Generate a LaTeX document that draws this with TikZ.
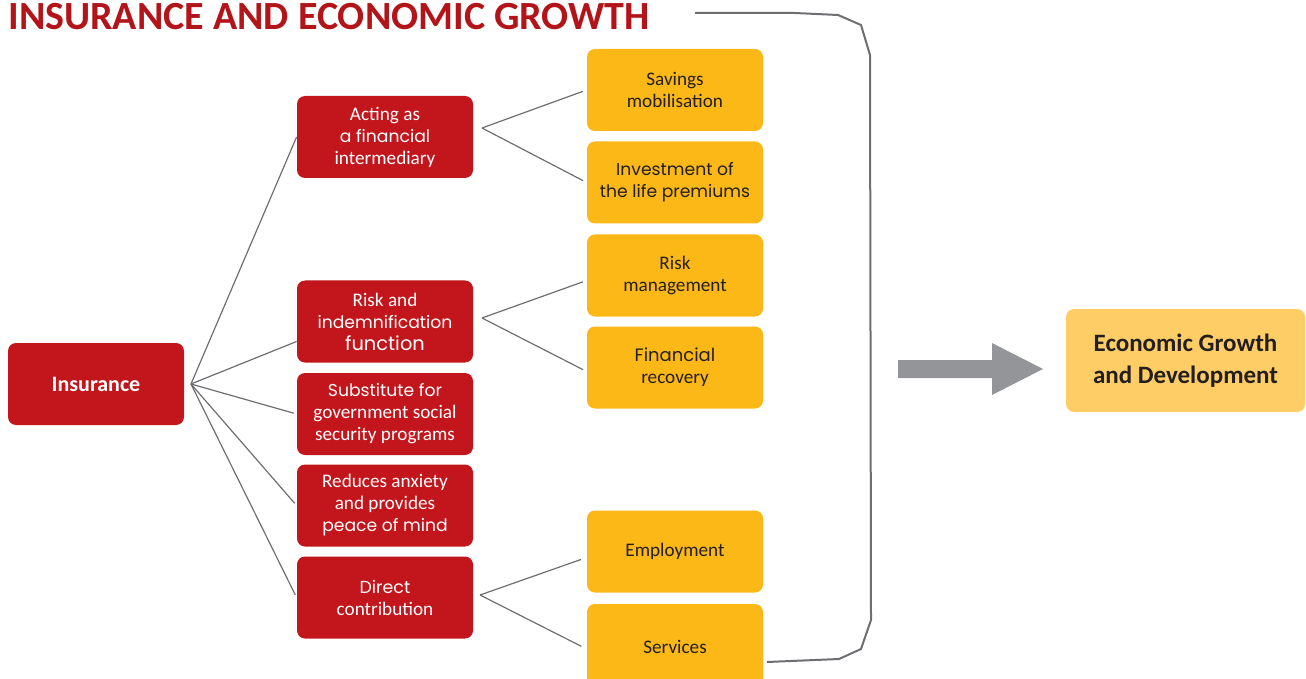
\documentclass[tikz,border=0pt]{standalone}
\usepackage{fontspec}
\setmainfont{Carlito}
\newfontfamily\gothic{Poppins}
\usetikzlibrary{positioning}

\definecolor{insred}{HTML}{C3161C}
\definecolor{titlered}{HTML}{B21419}
\definecolor{insyellow}{HTML}{FBB817}
\definecolor{growthyellow}{HTML}{FECD66}
\definecolor{arrowgray}{HTML}{939598}
\definecolor{linegray}{HTML}{6D6E71}
\definecolor{textdark}{HTML}{231F20}

\newcommand{\gothtext}[2][8.6]{{\gothic\fontsize{#1}{11}\selectfont #2}}

\begin{document}
\begin{tikzpicture}[x=0.5pt, y=-0.5pt,
    redbox/.style={fill=insred, text=white, rounded corners=4pt, minimum width=88pt, minimum height=41pt, inner sep=0pt, align=center, font=\fontsize{9.6}{11}\selectfont},
    yellowbox/.style={fill=insyellow, text=textdark, rounded corners=4pt, minimum width=88pt, minimum height=41pt, inner sep=0pt, align=center, font=\fontsize{9.6}{11}\selectfont},
    link/.style={draw=linegray, line width=0.6pt}]

\useasboundingbox (0,0) rectangle (1306,679);
\clip (0,0) rectangle (1306,679);

% Title
\node[anchor=base west, inner sep=0pt, text=titlered, font=\fontsize{20}{24}\selectfont\bfseries] (title) at (8,30) {INSURANCE AND ECONOMIC GROWTH};

% Root
\node[redbox, font=\fontsize{11}{13}\selectfont\bfseries] (ins) at (96,384) {Insurance};

% Roles of insurance
\node[redbox] (acting) at (385,137) {Acting as\\\gothtext{a financial}\\intermediary};
\node[redbox] (risk)   at (385,321.5) {Risk and\\\gothtext{indemnification}\\\gothtext[9.7]{function}};
\node[redbox] (subst)  at (385,414) {\gothtext{Substitute for}\\government social\\security programs};
\node[redbox] (reduce) at (385,505.5) {Reduces anxiety\\and provides\\\gothtext{peace of mind}};
\node[redbox] (direct) at (385,597.5) {\gothtext[8.7]{Direct}\\contribution};

% Effects
\node[yellowbox] (savings)  at (675,90) {Savings\\mobilisation};
\node[yellowbox] (invest)   at (675,182.5) {\gothtext{Investment of}\\\gothtext{the life premiums}};
\node[yellowbox] (riskm)    at (675,275.5) {Risk\\management};
\node[yellowbox] (recov)    at (675,367.5) {\gothtext[9]{Financial}\\recovery};
\node[yellowbox] (employ)   at (675,551.5) {Employment};
\node[yellowbox, minimum height=43pt] (services) at (675,647) {Services};

% Outcome
\node[fill=growthyellow, text=textdark, rounded corners=4pt, minimum width=119.5pt, minimum height=51.5pt, inner sep=0pt, align=center, font=\fontsize{12.5}{16}\selectfont\bfseries] (growth) at (1185.5,360.5) {Economic Growth\\and Development};

% Fan points
\coordinate (insfan) at (191,384);
\coordinate (actfan) at (482,128);
\coordinate (riskfan) at (482,318);
\coordinate (dirfan) at (480,595);

% Connectors
\draw[link] (insfan) -- (acting.west);
\draw[link] (insfan) -- ([yshift=-10pt]risk.west);
\foreach \n in {subst,reduce,direct}
    \draw[link, shorten >=1.5pt] (insfan) -- (\n.west);

\draw[link, shorten >=2pt] (actfan) -- (savings.west);
\draw[link, shorten >=2pt] (actfan) -- (invest.west);
\draw[link, shorten >=2pt] (riskfan) -- ([yshift=-2.5pt]riskm.west);
\draw[link, shorten >=2pt] (riskfan) -- ([yshift=-2pt]recov.west);
\draw[link, shorten >=3pt] (dirfan) -- ([yshift=-3pt]employ.west);
\draw[link, shorten >=3pt] (dirfan) -- ([yshift=-1pt]services.west);

% Bracket
\draw[linegray, line width=1pt, line join=round] (695,13) -- (795,13) -- (838,15) -- (861,25) -- (870,55) -- (871,620) -- (861,649) -- (839,659) -- (767,662);

% Big arrow
\fill[arrowgray] (898,360) -- (992,360) -- (992,343) -- (1043,369) -- (992,395) -- (992,378) -- (898,378) -- cycle;

\end{tikzpicture}
\end{document}
